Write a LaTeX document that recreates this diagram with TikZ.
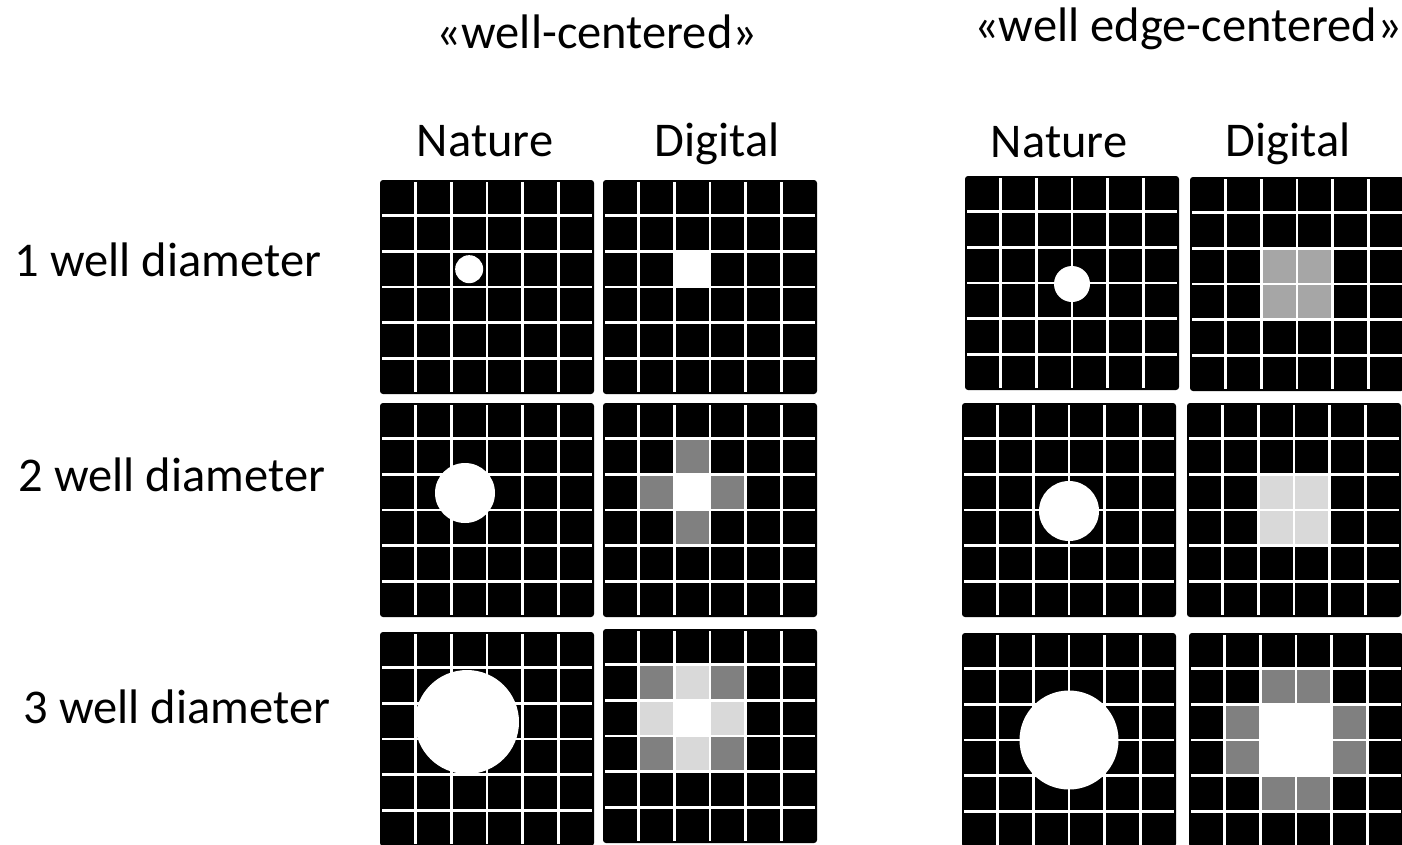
\documentclass[tikz,border=0pt]{standalone}
\usepackage{fontspec}
\setmainfont{Carlito}
\definecolor{midgray}{HTML}{808080}
\definecolor{lightgray}{HTML}{D9D9D9}
\definecolor{halfgray}{HTML}{A6A6A6}
\def\cs{35.667}
\def\pw{214}
\tikzset{
  label/.style={font=\fontsize{48.5}{55}\selectfont, anchor=base, inner sep=0pt},
  gridline/.style={draw=white, line width=2.7pt},
  well/.style={fill=white},
}
% one plate: black square, #3 drawn under the grid lines, #4 drawn over them
\newcommand\plate[4]{%
  \begin{scope}[shift={(#1,#2)}]
    \fill[black, rounded corners=3] (0,0) rectangle (\pw,\pw);
    #3
    \foreach \k in {1,...,5} {
      \draw[gridline] ({\k*\cs},2) -- ({\k*\cs},\pw-2);
      \draw[gridline] (2,{\k*\cs}) -- (\pw-2,{\k*\cs});
    }
    #4
  \end{scope}}
\newcommand\pix[3]{\fill[#3] ({#1*\cs},{#2*\cs}) rectangle ++(\cs,\cs);}
\begin{document}
\begin{tikzpicture}[x=1pt, y=-1pt]
\useasboundingbox (0,0) rectangle (1402,844);
\clip (0,0) rectangle (1402,844);

% titles
\node[label] (tl) at (597,48) {«well-centered»};
\node[label] (tr) at (1188,41) {«well edge-centered»};
\node[label] (n1) at (485,156) {Nature};
\node[label] (d1) at (717,156) {Digital};
\node[label] (n2) at (1059,157) {Nature};
\node[label] (d2) at (1288,156) {Digital};
\node[label] (r1) at (168,276) {1 well diameter};
\node[label] (r2) at (172,491) {2 well diameter};
\node[label] (r3) at (177,723) {3 well diameter};

% well-centered, nature
\plate{380}{180}{}{\fill[well] ({2.5*\cs},{2.5*\cs}) circle (14);}
\plate{380}{403}{}{\fill[well] (85,90) circle (30);}
\plate{380}{632}{}{\fill[well] (87,90) circle (52);}

% well-centered, digital
\plate{603}{180}{\pix{2}{2}{white}}{}
\plate{603}{403}{\pix{2}{2}{white}\pix{2}{1}{midgray}\pix{1}{2}{midgray}\pix{3}{2}{midgray}\pix{2}{3}{midgray}}{}
\plate{603}{629}{\pix{2}{2}{white}
  \pix{2}{1}{lightgray}\pix{1}{2}{lightgray}\pix{3}{2}{lightgray}\pix{2}{3}{lightgray}
  \pix{1}{1}{midgray}\pix{3}{1}{midgray}\pix{1}{3}{midgray}\pix{3}{3}{midgray}}{}

% well edge-centered, nature
\plate{965}{176}{}{\fill[well] (107,108) circle (18);}
\plate{962}{403}{}{\fill[well] (107,108) circle (30);}
\plate{962}{633}{}{\fill[well] (107,107) circle (49.5);}

% well edge-centered, digital
\plate{1190}{177}{\pix{2}{2}{halfgray}\pix{3}{2}{halfgray}\pix{2}{3}{halfgray}\pix{3}{3}{halfgray}}{}
\plate{1187}{403}{\pix{2}{2}{lightgray}\pix{3}{2}{lightgray}\pix{2}{3}{lightgray}\pix{3}{3}{lightgray}}{}
\plate{1189}{633}{\pix{2}{2}{white}\pix{3}{2}{white}\pix{2}{3}{white}\pix{3}{3}{white}
  \pix{2}{1}{midgray}\pix{3}{1}{midgray}\pix{1}{2}{midgray}\pix{1}{3}{midgray}
  \pix{4}{2}{midgray}\pix{4}{3}{midgray}\pix{2}{4}{midgray}\pix{3}{4}{midgray}}{}
\end{tikzpicture}
\end{document}
